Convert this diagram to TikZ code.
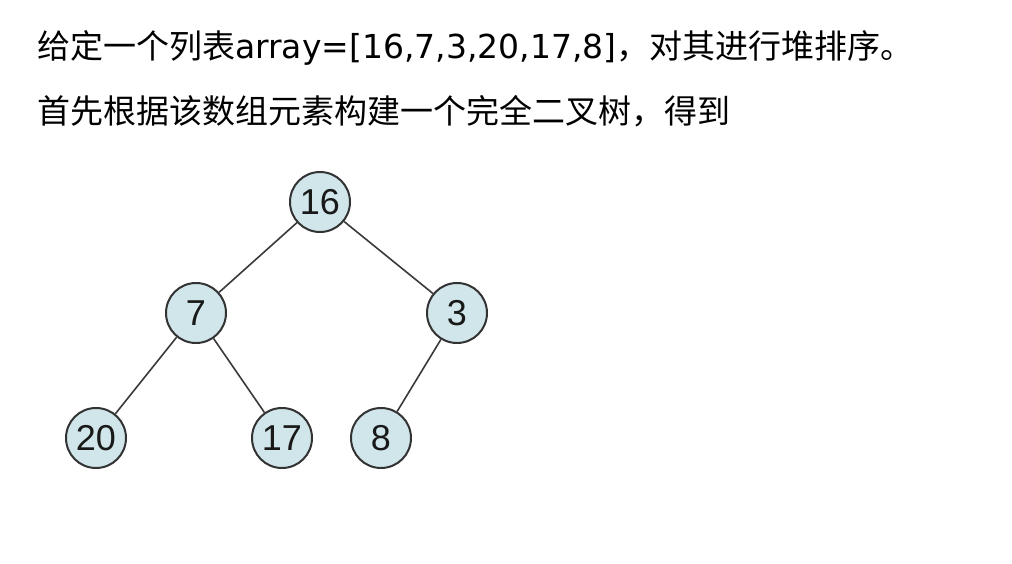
\documentclass[tikz,border=0pt]{standalone}
\usepackage{fontspec}
\setmainfont{DejaVu Sans}
\newfontfamily\cjk{Noto Sans CJK SC}
\newfontfamily\arialf{Liberation Sans}
\definecolor{nodefill}{HTML}{D0E6EA}
\definecolor{nodeedge}{HTML}{333333}
\definecolor{edgecol}{HTML}{3A3A3A}
\begin{document}
\begin{tikzpicture}[x=1pt,y=-1pt,
  tnode/.style={circle,draw=nodeedge,line width=2pt,fill=nodefill,
    minimum size=60pt,inner sep=0pt,font=\arialf\fontsize{36}{36}\selectfont,text=black!90},
  tedge/.style={draw=edgecol,line width=1.6pt},
  txt/.style={anchor=base west,inner sep=0pt,font=\fontsize{33}{36}\selectfont}]
\useasboundingbox (0,0) rectangle (1012,564);
\fill[white] (0,0) rectangle (1012,564);
\node[txt] (l1) at (37,59) {{\cjk 给定一个列表}array=[16,7,3,20,17,8]{\cjk ，对其进行堆排序。}};
\node[txt] (l2) at (37,124) {{\cjk 首先根据该数组元素构建一个完全二叉树，得到}};
\node[tnode] (n16) at (320,202) {16};
\node[tnode] (n7) at (196,313) {7};
\node[tnode] (n3) at (457,313) {3};
\node[tnode] (n20) at (96,438) {20};
\node[tnode] (n17) at (282,438) {17};
\node[tnode] (n8) at (381,438) {8};
\draw[tedge] (n16) -- (n7);
\draw[tedge] (n16) -- (n3);
\draw[tedge] (n7) -- (n20);
\draw[tedge] (n7) -- (n17);
\draw[tedge] (n3) -- (n8);
\end{tikzpicture}
\end{document}
